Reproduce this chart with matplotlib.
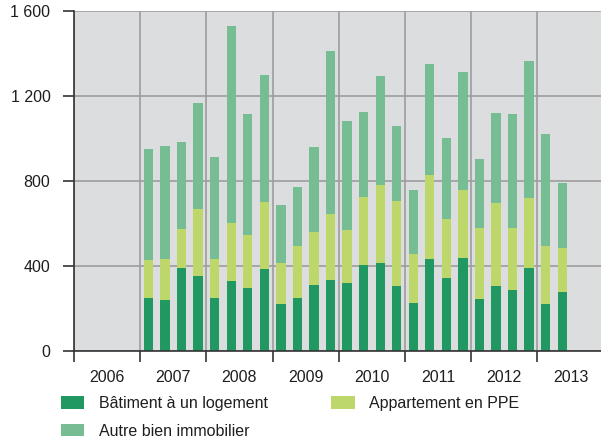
import matplotlib
matplotlib.use("Agg")
import matplotlib.pyplot as plt
import numpy as np

plt.rcParams['font.family'] = ['Liberation Sans', 'DejaVu Sans']

# Quarterly data 2007 Q1 .. 2013 Q2
years = [2006, 2007, 2008, 2009, 2010, 2011, 2012, 2013]
quarters = ["2007Q1", "2007Q2", "2007Q3", "2007Q4",
            "2008Q1", "2008Q2", "2008Q3", "2008Q4",
            "2009Q1", "2009Q2", "2009Q3", "2009Q4",
            "2010Q1", "2010Q2", "2010Q3", "2010Q4",
            "2011Q1", "2011Q2", "2011Q3", "2011Q4",
            "2012Q1", "2012Q2", "2012Q3", "2012Q4",
            "2013Q1", "2013Q2"]
batiment = [248, 239, 389, 352, 248, 328, 295, 385, 220, 248, 309, 333,
            319, 403, 413, 304, 224, 432, 342, 436, 243, 304, 286, 389,
            220, 276]
appartement = [179, 193, 184, 315, 184, 273, 250, 315, 193, 245, 250, 310,
               249, 320, 367, 400, 231, 395, 278, 320, 334, 391, 291, 330,
               273, 207]
autre = [522, 531, 409, 499, 480, 927, 569, 597, 273, 277, 400, 767,
         513, 400, 513, 353, 301, 522, 381, 556, 325, 424, 537, 644,
         527, 306]
labels = ["Bâtiment à un logement", "Appartement en PPE", "Autre bien immobilier"]
yticks = [0, 400, 800, 1200, 1600]
ytick_labels = ["0", "400", "800", "1 200", "1 600"]

c_bat = "#219862"
c_app = "#bdd76b"
c_aut = "#77bd93"

W, H = 601, 444
fig = plt.figure(figsize=(W / 100, H / 100), dpi=100)
ax = fig.add_axes([74 / W, 93.3 / H, 529.6 / W, 340 / H])
ax.set_facecolor("#dcdddf")

x = np.array([int(q[:4]) + (int(q[-1]) - 0.5) / 4 for q in quarters])
bat = np.array(batiment)
app = np.array(appartement)
aut = np.array(autre)
bw = 0.14
ax.bar(x, bat, bw, color=c_bat, label=labels[0], zorder=3)
ax.bar(x, app, bw, bottom=bat, color=c_app, label=labels[1], zorder=3)
ax.bar(x, aut, bw, bottom=bat + app, color=c_aut, label=labels[2], zorder=3)

ax.set_xlim(2006, 2014)
ax.set_ylim(0, 1600)
ax.set_yticks(yticks)
ax.set_yticklabels(ytick_labels)
ax.set_xticks(years + [2014])
ax.set_xticklabels([])
ax.set_xticks([y + 0.5 for y in years], minor=True)
ax.set_xticklabels([str(y) for y in years], minor=True)

ax.grid(True, which="major", color="#9d9d9f", linewidth=1.2, zorder=1)
ax.set_axisbelow(True)
for s in ["top", "right"]:
    ax.spines[s].set_visible(False)
for s in ["left", "bottom"]:
    ax.spines[s].set_color("#333333")
    ax.spines[s].set_linewidth(1.2)
    ax.spines[s].set_zorder(4)

ax.tick_params(axis="y", which="major", direction="out", length=8, width=1.2,
               color="#333333", labelsize=11.5, labelcolor="#1e1e1e", pad=9)
ax.tick_params(axis="x", which="major", direction="out", length=8, width=1.2,
               color="#333333")
ax.tick_params(axis="x", which="minor", length=0, labelsize=11.5,
               labelcolor="#1e1e1e", pad=14)

h, l = ax.get_legend_handles_labels()
order = [0, 2, 1]
fig.legend([h[i] for i in order], [l[i] for i in order], ncol=2,
           loc="upper left", bbox_to_anchor=(61 / W, 1 - 396 / H),
           frameon=False, fontsize=11.5, handlelength=1.45, handleheight=0.8,
           handletextpad=0.9, columnspacing=4.0, labelspacing=0.8,
           borderpad=0, borderaxespad=0, labelcolor="#1e1e1e")

fig.savefig("out.png", dpi=100)
